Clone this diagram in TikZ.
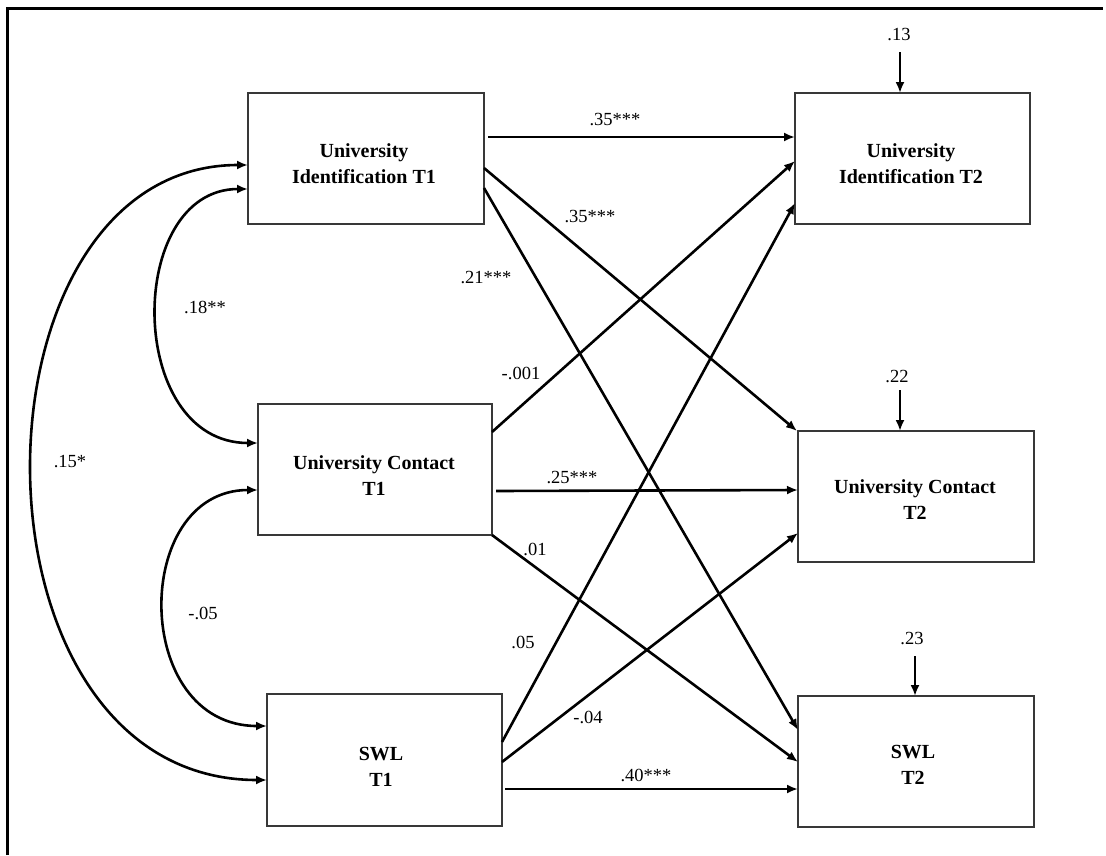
\documentclass[tikz,border=0pt]{standalone}
\usepackage{fontspec}
\setmainfont{Liberation Serif}
\usetikzlibrary{arrows.meta,calc}
\begin{document}
\begin{tikzpicture}[x=1pt,y=-1pt,
  box/.style={draw=black!78, line width=1.6pt, minimum width=236pt, minimum height=131pt, inner sep=0pt, outer sep=0pt},
  boxtext/.style={align=center, font=\bfseries\fontsize{20}{26}\selectfont, inner sep=0pt},
  lab/.style={font=\fontsize{18.5}{20}\selectfont, inner sep=1pt},
  conn/.style={line width=2.6pt, -{Latex[length=11pt,width=9pt]}},
  cov/.style={line width=2.6pt, {Latex[length=11pt,width=9pt]}-{Latex[length=11pt,width=9pt]}}
]
\useasboundingbox (0,0) rectangle (1106,855);
\fill[white] (0,0) rectangle (1106,855);
% frame (top and left edges only)
\draw[line width=3pt] (7,855) -- (7,8) -- (1103,8);

% boxes
\node[box] (uiA) at (366,158.5) {};
\node[box, minimum width=234pt] (ucA) at (375,469.5) {};
\node[box, minimum width=235pt, minimum height=132pt] (swA) at (384.5,760) {};
\node[box, minimum width=235pt] (uiB) at (912.5,158.5) {};
\node[box] (ucB) at (916,496.5) {};
\node[box] (swB) at (916,761.5) {};

% box texts
\node[boxtext] (uiAt) at (364,164) {University\\Identification T1};
\node[boxtext] (ucAt) at (374,476) {University Contact\\T1};
\node[boxtext] (swAt) at (381,767) {SWL\\T1};
\node[boxtext] (uiBt) at (911,164) {University\\Identification T2};
\node[boxtext] (ucBt) at (915,500) {University Contact\\T2};
\node[boxtext] (swBt) at (913,765) {SWL\\T2};

% regression paths
\draw[conn] ($(uiA.north east)+(4,44)$) -- ($(uiB.north west)+(0,44)$);
\draw[conn] ($(uiA.north east)+(0,75)$) -- ($(ucB.north west)+(-1,0)$);
\draw[conn] ($(uiA.north east)+(0,95)$) -- ($(swB.north west)+(0,34)$);
\draw[conn] ($(ucA.north east)+(0,28)$) -- ($(uiB.north west)+(0,68)$);
\draw[conn] ($(ucA.north east)+(4,87)$) -- ($(ucB.north west)+(0,59)$);
\draw[conn] (ucA.south east) -- ($(swB.north west)+(0,66)$);
\draw[conn] ($(swA.north east)+(0,48)$) -- ($(uiB.north west)+(0,110)$);
\draw[conn] ($(swA.north east)+(0,68)$) -- ($(ucB.north west)+(0,102)$);
\draw[conn] ($(swA.north east)+(3,95)$) -- ($(swB.north west)+(0,93)$);

% covariances
\draw[cov] ($(uiA.north west)+(0,96)$) .. controls (125,189) and (125,443) .. ($(ucA.north west)+(0,39)$);
\draw[cov] ($(uiA.north west)+(0,72)$) .. controls (-40,165) and (-45,780) .. ($(swA.north west)+(0,86)$);
\draw[cov] ($(ucA.north west)+(0,86)$) .. controls (131,490) and (131,726) .. ($(swA.north west)+(0,32)$);

% residuals
\node[lab] (r1) at (899,35) {.13};
\node[lab] (r2) at (897,376) {.22};
\node[lab] (r3) at (912,638) {.23};
\coordinate (r1s) at (900,52);
\coordinate (r2s) at (900,390);
\coordinate (r3s) at (915,656);
\draw[conn] (r1s) -- ($(uiB.north west)+(105,0)$);
\draw[conn] (r2s) -- ($(ucB.north west)+(102,0)$);
\draw[conn] (r3s) -- ($(swB.north west)+(117,0)$);

% path labels
\node[lab] (l1) at (615,120) {.35***};
\node[lab] (l2) at (590,217) {.35***};
\node[lab] (l3) at (486,277) {.21***};
\node[lab] (l4) at (205,307) {.18**};
\node[lab] (l5) at (521,373) {-.001};
\node[lab] (l6) at (70,462) {.15*};
\node[lab] (l7) at (203,613) {-.05};
\node[lab] (l8) at (535,549) {.01};
\node[lab] (l9) at (523,642) {.05};
\node[lab] (l10) at (572,477) {.25***};
\node[lab] (l11) at (588,717) {-.04};
\node[lab] (l12) at (646,775) {.40***};
\end{tikzpicture}
\end{document}
